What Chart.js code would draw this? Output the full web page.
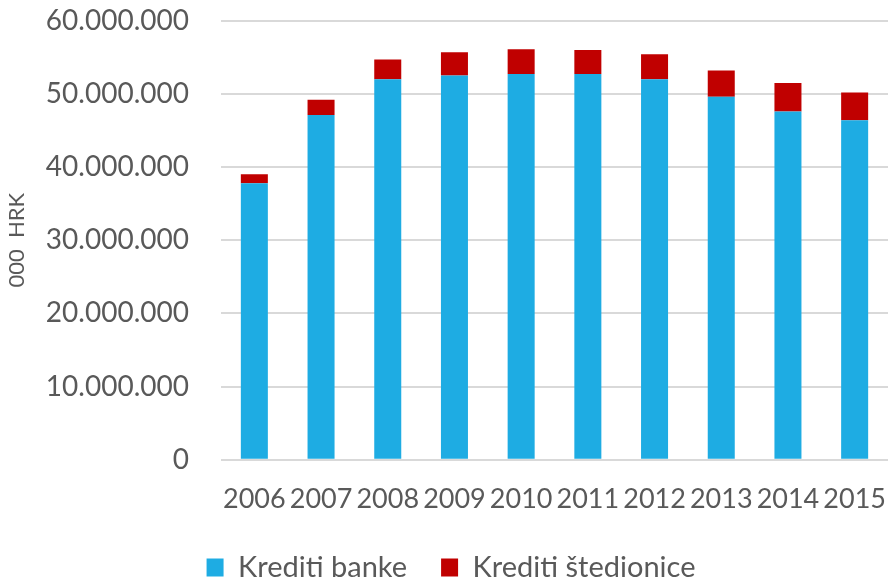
<!DOCTYPE html>
<html>
<head>
<meta charset="utf-8">
<script src="https://cdn.jsdelivr.net/npm/chart.js@4"></script>
<style>
  body { margin: 0; background: #fff; }
  #wrap { width: 888px; height: 582px; }
</style>
</head>
<body>
<div id="wrap"><canvas id="myChart"></canvas></div>
<script>
const godine = ['2006', '2007', '2008', '2009', '2010', '2011', '2012', '2013', '2014', '2015'];
// 000 HRK
const kreditiBanke = [37800000, 47100000, 52000000, 52500000, 52700000, 52700000, 52000000, 49600000, 47600000, 46400000];
const kreditiStedionice = [1200000, 2100000, 2700000, 3200000, 3400000, 3300000, 3400000, 3600000, 3900000, 3800000];
const yTicks = [0, 10000000, 20000000, 30000000, 40000000, 50000000, 60000000];

const tekst = '#595959';
const font = 'Lato, "Open Sans", sans-serif';

function formatBroj(v) {
    return String(v).replace(/\B(?=(\d{3})+(?!\d))/g, '.');
}

// legenda: mali pomak udesno
const legendFix = {
    id: 'legendFix',
    afterLayout(chart) {
        chart.legend.left += 7;
        chart.legend.right += 7;
    }
};

const ctx = document.getElementById('myChart').getContext('2d');
const myChart = new Chart(ctx, {
    type: 'bar',
    data: {
        labels: godine,
        datasets: [{
            label: 'Krediti banke',
            data: kreditiBanke,
            backgroundColor: '#1eace3',
            borderWidth: 0
        },
        {
            label: 'Krediti štedionice',
            data: kreditiStedionice,
            backgroundColor: '#c00000',
            borderWidth: 0
        }]
    },
    plugins: [legendFix],
    options: {
        responsive: true,
        maintainAspectRatio: false,
        animation: false,
        layout: { padding: { top: 0, right: 0, bottom: -10, left: 0 } },
        datasets: {
            bar: { barPercentage: 0.405, categoryPercentage: 1 }
        },
        plugins: {
            tooltip: { enabled: false },
            legend: {
                position: 'bottom',
                labels: {
                    color: tekst,
                    font: { family: font, size: 29 },
                    boxWidth: 17,
                    boxHeight: 18,
                    padding: 34
                }
            }
        },
        scales: {
            x: {
                stacked: true,
                afterFit: function (scale) {
                    scale.height = 59.3;
                    scale.paddingLeft = 0;
                    scale.paddingRight = 0;
                },
                grid: { display: false },
                border: { display: false },
                ticks: {
                    color: tekst,
                    font: { family: font, size: 27 },
                    padding: 15,
                    maxRotation: 0,
                    autoSkip: false
                }
            },
            y: {
                stacked: true,
                min: 0,
                max: 60000000,
                afterFit: function (scale) {
                    scale.width = 221;
                    scale.paddingTop = 20.7;
                    scale.paddingBottom = 0;
                },
                afterBuildTicks: function (scale) {
                    scale.ticks = yTicks.map(v => ({ value: v }));
                },
                grid: {
                    color: '#d9d9d9',
                    lineWidth: 2,
                    drawTicks: false
                },
                border: { display: false },
                ticks: {
                    color: tekst,
                    font: { family: font, size: 28 },
                    padding: 32,
                    callback: function (value) { return formatBroj(value); }
                },
                title: {
                    display: true,
                    text: '000  HRK',
                    color: tekst,
                    font: { family: font, size: 22 },
                    padding: { top: 4, bottom: 0 }
                }
            }
        }
    }
});
</script>
</body>
</html>
